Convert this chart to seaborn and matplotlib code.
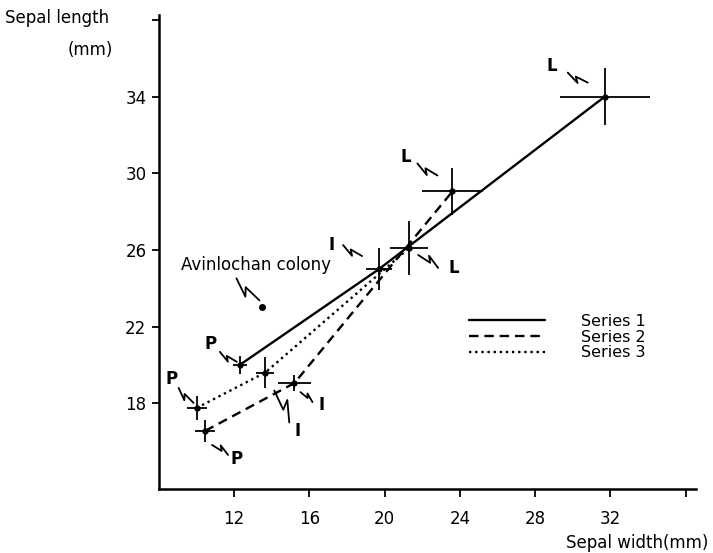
import numpy as np
import pandas as pd
import matplotlib
matplotlib.use("Agg")
import matplotlib.pyplot as plt
import matplotlib.transforms as mtransforms
from matplotlib.lines import Line2D
import seaborn as sns

# stage order along each series: P, I, L
series_names = ["Series 1", "Series 2", "Series 3"]
stages = ["P", "I", "L"]

width_s1 = [12.3, 19.7, 31.7]
length_s1 = [20.0, 25.0, 34.0]
width_s2 = [10.45, 15.2, 23.6]
length_s2 = [16.55, 19.05, 29.05]
width_s3 = [10.0, 13.65, 21.3]
length_s3 = [17.75, 19.6, 26.1]

# half-lengths of the cross bars
xerr_s1 = [0.37, 0.7, 2.4]
yerr_s1 = [0.47, 1.1, 1.5]
xerr_s2 = [0.55, 0.86, 1.6]
yerr_s2 = [0.57, 0.4, 1.25]
xerr_s3 = [0.53, 0.48, 1.0]
yerr_s3 = [0.62, 0.83, 1.4]

colony_width = 13.5
colony_length = 23.0
colony_label = "Avinlochan colony"

x_ticks = [12, 16, 20, 24, 28, 32, 36]
y_ticks = [18, 22, 26, 30, 34, 38]

widths = [width_s1, width_s2, width_s3]
lengths = [length_s1, length_s2, length_s3]
xerrs = [xerr_s1, xerr_s2, xerr_s3]
yerrs = [yerr_s1, yerr_s2, yerr_s3]

df = pd.DataFrame({
    "width": np.concatenate(widths),
    "length": np.concatenate(lengths),
    "series": np.repeat(series_names, 3),
    "stage": stages * 3,
})

sns.set_style("ticks")
plt.rcParams["font.family"] = ["DejaVu Sans"]
plt.rcParams["text.color"] = "black"
plt.rcParams["xtick.color"] = "black"
plt.rcParams["ytick.color"] = "black"
plt.rcParams["axes.edgecolor"] = "black"

fig = plt.figure(figsize=(7.13, 5.53), dpi=100)
ax = fig.add_axes([159 / 713, 64 / 553, 537 / 713, 474 / 553])

dash_map = {"Series 1": "", "Series 2": (4, 2.5), "Series 3": (1, 1.6)}
sns.lineplot(data=df, x="width", y="length", style="series", dashes=dash_map,
             color="black", linewidth=1.7, sort=False, legend=False, ax=ax)

for w, l, xe, ye in zip(widths, lengths, xerrs, yerrs):
    ax.errorbar(w, l, xerr=xe, yerr=ye, fmt="o", ms=3.5, color="black",
                elinewidth=1.3, capsize=0)

ax.plot(colony_width, colony_length, "o", ms=4, color="black")


def zigzag(x, y, start, end):
    # little lightning-bolt pointer, offsets in pixels from the data point
    trans = mtransforms.IdentityTransform() + mtransforms.ScaledTranslation(x, y, ax.transData)
    s = np.array(start, float)
    d = np.array(end, float) - s
    L = np.hypot(*d)
    n = np.array([-d[1], d[0]]) / L
    pts = np.array([s, s + 0.6 * d, s + 0.4 * d + 0.22 * L * n, s + d])
    ax.plot(pts[:, 0], pts[:, 1], color="black", lw=1.3, transform=trans, clip_on=False)
    return trans


# pointers: (series index, stage index, zig start, zig end, label position)
pointers = [
    (0, 0, (-3, 3), (-20, 13), (-29, 21)),
    (0, 1, (-17, 13), (-36, 24), (-48, 24)),
    (0, 2, (-17, 14), (-37, 24), (-53, 31)),
    (1, 0, (7, -14), (23, -24), (31, -28)),
    (1, 1, (6, -9), (18, -19), (27, -22)),
    (1, 2, (-15, 16), (-35, 28), (-47, 34)),
    (2, 0, (-3, 5), (-18, 20), (-25, 29)),
    (2, 1, (9, -18), (24, -50), (32, -58)),
    (2, 2, (9, -7), (29, -20), (45, -20)),
]
for si, k, a, b, t in pointers:
    tr = zigzag(widths[si][k], lengths[si][k], a, b)
    ax.text(t[0], t[1], stages[k], transform=tr, ha="center", va="center",
            fontsize=12, fontweight="bold")

tr = zigzag(colony_width, colony_length, (-3, 7), (-26, 29))
ax.text(-6, 42, colony_label, transform=tr, ha="center", va="center", fontsize=12)

ax.set_xlim(8.0, 36.55)
ax.set_ylim(13.52, 38.26)
ax.set_xticks(x_ticks)
ax.set_xticklabels([str(v) for v in x_ticks[:-1]] + [""])
ax.set_yticks(y_ticks)
ax.set_yticklabels([str(v) for v in y_ticks[:-1]] + [""])
ax.tick_params(axis="x", direction="out", length=6, width=1.3, labelsize=12, pad=9)
ax.tick_params(axis="y", direction="out", length=5, width=1.3, labelsize=12, pad=4)
ax.set_xlabel("")
ax.set_ylabel("")
sns.despine(ax=ax)
for sp in ["left", "bottom"]:
    ax.spines[sp].set_linewidth(1.8)

handles = [Line2D([], [], color="black", lw=1.7, linestyle="-"),
           Line2D([], [], color="black", lw=1.7, linestyle=(0, (4, 2.5))),
           Line2D([], [], color="black", lw=1.7, linestyle=(0, (1, 1.6)))]
ax.legend(handles, series_names, frameon=False, loc="upper left",
          bbox_to_anchor=(0.55, 0.40), handlelength=4.8, handletextpad=2.2,
          labelspacing=0.05, fontsize=11.5)

fig.text(5 / 713, 1 - 18 / 553, "Sepal length", fontsize=12, ha="left", va="center")
fig.text(90 / 713, 1 - 50 / 553, "(mm)", fontsize=12, ha="center", va="center")
fig.text(708 / 713, 1 - 543 / 553, "Sepal width(mm)", fontsize=12, ha="right", va="center")

fig.savefig("out.png", dpi=100)
